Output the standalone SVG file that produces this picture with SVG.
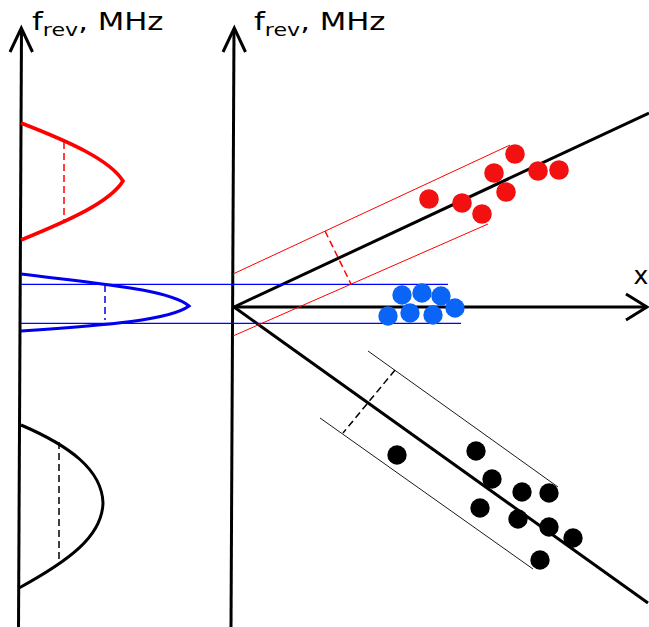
<svg xmlns="http://www.w3.org/2000/svg" width="649" height="627" viewBox="0 0 649 627">
<style>
.ax{fill:none;stroke:#000;stroke-width:3;stroke-linecap:butt;stroke-linejoin:miter}
.lbl{font-family:"DejaVu Sans","Liberation Sans",sans-serif;font-size:25px;fill:#000}
.sub{font-size:18px}
.thinr{fill:none;stroke:#ff0000;stroke-width:1}
.thinb{fill:none;stroke:#0000ff;stroke-width:1.2}
.think{fill:none;stroke:#000;stroke-width:0.9}
.dash{fill:none;stroke-width:1.5;stroke-dasharray:7,4}
.rd{fill:#f21010}
.bd{fill:#0a64f5}
.kd{fill:#000}
</style>
<rect width="649" height="627" fill="#fff"/>
<g id="left-axis">
<path class="ax" d="M21.5,29 L18.5,627"/>
<path class="ax" d="M10,52 L21.3,28 L32.5,52"/>
<text class="lbl" transform="translate(32,29.5) scale(1.23,1)">f<tspan class="sub" dy="6">rev</tspan><tspan dy="-6">, MHz</tspan></text>
</g>
<g id="right-axis">
<path class="ax" d="M234,29 L231,627"/>
<path class="ax" d="M223,52 L234.3,28 L245.5,52"/>
<text class="lbl" transform="translate(254,29.5) scale(1.23,1)">f<tspan class="sub" dy="6">rev</tspan><tspan dy="-6">, MHz</tspan></text>
</g>
<g id="x-axis">
<path class="ax" d="M234,307 L647,307"/>
<path class="ax" d="M626,294 L647,307 L626,320"/>
<text class="lbl" x="633.5" y="284">x</text>
</g>
<g id="connectors">
<path class="ax" d="M234,307 L649,113"/>
<path class="ax" d="M234,307 L648,603"/>
</g>
<g id="red-distribution">
<path d="M21,123 C70,142 110,160 123,181 C110,202 70,220 21,240" fill="none" stroke="#ff0000" stroke-width="3.6"/>
<path class="dash" stroke="#ff0000" d="M64,142 L64,222"/>
</g>
<g id="blue-distribution">
<path d="M21,274 C110,285 170,290 189,306 C170,320 110,325 21,331" fill="none" stroke="#0000ee" stroke-width="3"/>
<path class="dash" stroke="#0000ee" d="M105,285 L105,320"/>
<path class="thinb" d="M21,284.3 L448,284.3"/>
<path class="thinb" d="M21,323.3 L461,323.3"/>
</g>
<g id="black-distribution">
<path d="M21,425 C70,446 102,470 103,503 C102,536 70,560 19,588" fill="none" stroke="#000" stroke-width="3"/>
<path class="dash" stroke="#000" stroke-width="1.2" d="M59,442 L59,565"/>
</g>
<g id="red-band">
<path class="thinr" d="M233,274 L510,145"/>
<path class="thinr" d="M233,336 L488,224"/>
<path class="dash" stroke="#ff0000" d="M325,231 L351,284"/>
<circle class="rd" cx="515" cy="154" r="9.8"/>
<circle class="rd" cx="494" cy="173" r="9.8"/>
<circle class="rd" cx="538" cy="171" r="9.8"/>
<circle class="rd" cx="559" cy="170" r="9.8"/>
<circle class="rd" cx="429" cy="199" r="9.8"/>
<circle class="rd" cx="462" cy="203" r="9.8"/>
<circle class="rd" cx="506" cy="192" r="9.8"/>
<circle class="rd" cx="482" cy="214" r="9.8"/>
</g>
<g id="blue-bunch">
<circle class="bd" cx="402" cy="295" r="9.7"/>
<circle class="bd" cx="422" cy="293" r="9.7"/>
<circle class="bd" cx="441" cy="296" r="9.7"/>
<circle class="bd" cx="455" cy="308" r="9.7"/>
<circle class="bd" cx="388" cy="316" r="9.7"/>
<circle class="bd" cx="410" cy="313" r="9.7"/>
<circle class="bd" cx="433" cy="315" r="9.7"/>
</g>
<g id="black-band">
<path class="think" d="M368,351 L558,487"/>
<path class="think" d="M320,418 L533,569"/>
<path class="dash" stroke="#000" stroke-width="1.4" d="M395,370 L343,433"/>
<circle class="kd" cx="397" cy="455" r="9.7"/>
<circle class="kd" cx="476" cy="451" r="9.7"/>
<circle class="kd" cx="492" cy="479" r="9.7"/>
<circle class="kd" cx="522" cy="492" r="9.7"/>
<circle class="kd" cx="549" cy="493" r="9.7"/>
<circle class="kd" cx="480" cy="508" r="9.7"/>
<circle class="kd" cx="518" cy="519" r="9.7"/>
<circle class="kd" cx="549" cy="527" r="9.7"/>
<circle class="kd" cx="573" cy="538" r="9.7"/>
<circle class="kd" cx="540" cy="560" r="9.7"/>
</g>
</svg>
